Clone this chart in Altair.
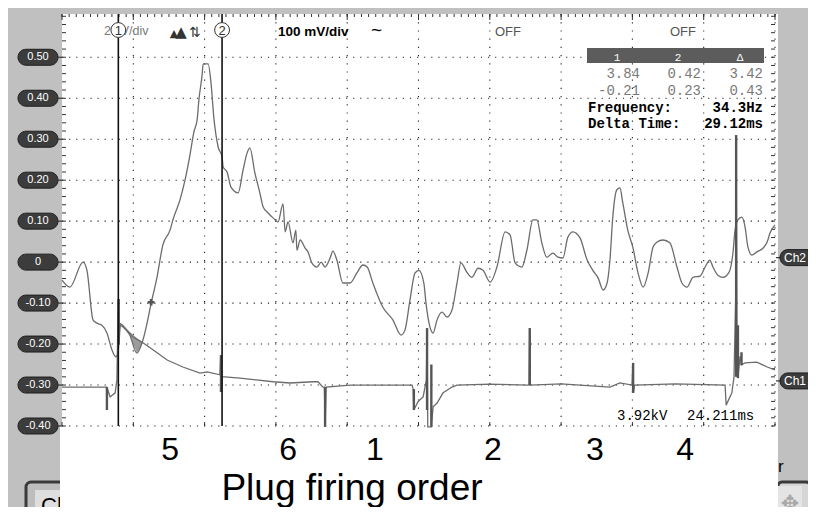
import altair as alt
import numpy as np
import pandas as pd

# ---------------- data (time in ms, volts) ----------------
ch2_t = [0, 2.2, 5.9, 7.0, 8.7, 9.8, 11.2, 12.6, 14.0, 15.1,
         15.7, 16.3, 17.1, 19.0, 21.0, 22.7, 25.2, 26.6, 28.3, 30.3,
         31.1, 33.1, 34.5, 35.9, 37.0, 37.9, 38.4, 39.3, 39.6, 41.0,
         41.8, 42.6, 43.8, 44.9, 45.2, 46.3, 47.4, 49.4, 50.8, 51.9,
         52.7, 54.1, 55.5, 56.4, 57.8, 59.2, 60.6, 62.0, 62.6, 63.4,
         64.8, 65.6, 65.9, 66.8, 68.2, 69.0, 70.1, 71.5, 72.7, 73.8,
         75.2, 76.0, 77.1, 78.8, 80.8, 82.7, 84.4, 85.6, 87.2, 90.0,
         92.8, 95.1, 96.2, 97.6, 99.0, 100.1, 101.5, 102.1, 103.2, 104.1,
         105.2, 106.6, 108.0, 109.4, 110.8, 111.9, 113.6, 115.0, 116.7, 118.1,
         120.1, 122.0, 124.3, 125.7, 127.1, 129.0, 130.4, 132.1, 133.2, 134.6,
         136.0, 137.7, 139.1, 140.5, 141.9, 143.3, 145.3, 147.3, 148.9, 150.4,
         151.8, 152.9, 153.7, 154.5, 155.6, 156.5, 157.3, 158.7, 160.1, 161.6,
         163.0, 164.4, 165.8, 166.9, 168.6, 170.5, 172.5, 173.9, 175.3, 177.0,
         179.0, 180.4, 181.7, 182.6, 184.0, 185.4, 187.1, 188.2, 188.8, 189.6,
         190.7, 191.6, 192.4, 193.5, 194.9, 196.6, 197.8, 198.6, 200]
ch2_v = [-0.044, -0.061, 0.000, -0.020, -0.141, -0.149, -0.154, -0.173, -0.214, -0.231,
         -0.222, -0.155, -0.158, -0.178, -0.222, -0.190, -0.093, -0.039, 0.042, 0.078,
         0.103, 0.152, 0.200, 0.262, 0.318, 0.347, 0.396, 0.457, 0.484, 0.484,
         0.437, 0.352, 0.281, 0.257, 0.232, 0.220, 0.183, 0.169, 0.225, 0.266,
         0.279, 0.218, 0.169, 0.135, 0.120, 0.108, 0.098, 0.142, 0.074, 0.098,
         0.047, 0.078, 0.029, 0.054, 0.034, 0.025, -0.002, -0.012, 0.000, -0.012,
         0.010, 0.027, 0.005, -0.051, -0.051, -0.027, -0.007, -0.012, -0.051, -0.110,
         -0.141, -0.178, -0.166, -0.093, -0.027, -0.020, -0.051, -0.100, -0.158, -0.173,
         -0.141, -0.122, -0.134, -0.117, -0.051, -0.002, -0.025, -0.037, -0.015, -0.020,
         -0.049, -0.012, 0.074, 0.066, -0.002, -0.012, 0.029, 0.103, 0.103, 0.047,
         0.012, 0.022, 0.012, 0.010, 0.061, 0.074, 0.059, 0.005, -0.020, -0.039,
         -0.068, -0.051, 0.005, 0.110, 0.176, 0.181, 0.145, 0.078, 0.037, -0.027,
         -0.061, -0.027, 0.037, 0.049, 0.054, 0.047, -0.012, -0.051, -0.061, -0.037,
         -0.034, -0.012, 0.005, -0.012, -0.032, -0.037, -0.025, 0.022, 0.078, 0.103,
         0.110, 0.086, 0.037, 0.017, 0.025, 0.034, 0.049, 0.071, 0.091]

ch1_t = [0, 12.0, 12.5, 12.6, 12.8, 13.5, 14.9, 15.4, 15.8, 16.0,
         16.3, 16.9, 19.9, 22.7, 25.5, 29.5, 33.9, 38.7, 40.7, 44.3,
         44.5, 44.7, 44.9, 45.7, 49.9, 59.2, 64.0, 70.4, 71.8, 73.2,
         73.6, 73.8, 74.1, 80.8, 92.0, 98.2, 98.5, 98.7, 99.9, 101.3,
         102.2, 102.4, 102.6, 103.6, 104.1, 105.2, 106.9, 109.4, 110.8, 120.0,
         131.0, 131.2, 131.4, 140.0, 153.7, 156.5, 159.9, 160.1, 160.3, 160.6,
         172.0, 186.0, 186.3, 187.9, 188.5, 189.0, 189.1, 189.3, 189.6, 190.2,
         190.7, 191.6, 194.9, 197.8, 200]
ch1_v = [-0.305, -0.305, -0.305, -0.361, -0.310, -0.329, -0.319, -0.288, -0.090, -0.200,
         -0.150, -0.153, -0.183, -0.197, -0.214, -0.239, -0.256, -0.271, -0.268, -0.275,
         -0.227, -0.317, -0.280, -0.280, -0.283, -0.292, -0.295, -0.292, -0.292, -0.305,
         -0.305, -0.402, -0.305, -0.300, -0.300, -0.300, -0.310, -0.361, -0.340, -0.329,
         -0.288, -0.161, -0.402, -0.402, -0.353, -0.344, -0.319, -0.305, -0.300, -0.298,
         -0.300, -0.161, -0.300, -0.297, -0.305, -0.295, -0.300, -0.246, -0.319, -0.300,
         -0.297, -0.300, -0.349, -0.319, -0.280, -0.076, 0.310, -0.154, -0.283, -0.230,
         -0.250, -0.246, -0.244, -0.256, -0.263]

spike_t = [12.6, 15.9, 44.6, 73.8, 98.7, 102.4, 103.6, 131.2, 160.2, 189.1, 189.6, 190.6]
spike_lo = [-0.361, -0.200, -0.317, -0.402, -0.361, -0.361, -0.402, -0.300, -0.319, -0.280, -0.283, -0.252]
spike_hi = [-0.305, -0.090, -0.227, -0.305, -0.310, -0.161, -0.250, -0.161, -0.246, 0.310, -0.154, -0.220]

shade_t = [16.9, 19.0, 21.0, 22.7]
shade_ch1 = [-0.153, -0.170, -0.185, -0.196]
shade_ch2 = [-0.158, -0.178, -0.222, -0.196]

cursor_t = [15.8, 44.9]
cursor_lbl = ["1", "2"]
marker_t = [25.0]
marker_v = [-0.098]

volt_ticks = [0.50, 0.40, 0.30, 0.20, 0.10, 0.0, -0.10, -0.20, -0.30, -0.40]
volt_labels = ["0.50", "0.40", "0.30", "0.20", "0.10", "0", "-0.10", "-0.20", "-0.30", "-0.40"]
time_div = [20, 40, 60, 80, 100, 120, 140, 160, 180, 200]

ch_mark_lbl = ["Ch2", "Ch1"]
ch_mark_v = [0.011, -0.290]

firing_lbl = ["5", "6", "1", "2", "3", "4"]
firing_t = [30.3, 63.4, 87.8, 120.9, 149.5, 174.8]

# ---------------- scales / helpers ----------------
W, H = 713, 412
XS = alt.Scale(domain=[0, 200], nice=False, zero=False)
YS = alt.Scale(domain=[-0.40, 0.6056], nice=False, zero=False)


def X(f="t"):
    return alt.X(f"{f}:Q", scale=XS, axis=None)


def Y(f="v"):
    return alt.Y(f"{f}:Q", scale=YS, axis=None)


one = pd.DataFrame({"a": [0]})
SANS = "Liberation Sans"
MONO = "Liberation Mono"


def txt(text, x, y, size=12, color="#000", font=SANS, weight="normal", align="left", baseline="alphabetic"):
    return alt.Chart(one).mark_text(text=text, fontSize=size, color=color, font=font, fontWeight=weight,
                                    align=align, baseline=baseline).encode(x=alt.value(x), y=alt.value(y))


def box(x, x2, y, y2, fill, stroke=None, sw=0, r=0):
    kw = dict(fill=fill, cornerRadius=r)
    if stroke:
        kw.update(stroke=stroke, strokeWidth=sw)
    return alt.Chart(one).mark_rect(**kw).encode(x=alt.value(x), x2=alt.value(x2), y=alt.value(y), y2=alt.value(y2))


layers = []

# bottom buttons (partly hidden by the white area)
layers.append(box(-36, 20, 468, 512, "#bdbdbd", "#3a3a3a", 3, 5))
layers.append(box(-27, 20, 476, 512, "#dedede"))
layers.append(txt("Ch", -21, 499, size=22))
layers.append(box(716, 748, 468, 512, "#d6d6d6", "#3a3a3a", 3, 4))
layers.append(box(716, 740, 472, 512, "#e4e4e4"))
layers.append(txt("✥", 728, 497, size=22, color="#a8a8a8", font="DejaVu Sans", align="center"))
layers.append(txt("r", 716, 458, size=17))

# white areas
layers.append(box(-2, 716, 412, 500, "white"))
layers.append(box(0, 716, 0, 412, "white"))

# grid
hdf = pd.DataFrame({"v": volt_ticks})
vdf = pd.DataFrame({"t": time_div})
layers.append(alt.Chart(hdf).mark_rule(color="#222", strokeWidth=1.1, strokeDash=[1.2, 5.9]).encode(
    y=Y(), x=alt.value(0), x2=alt.value(W)))
layers.append(alt.Chart(vdf).mark_rule(color="#222", strokeWidth=1.1, strokeDash=[1.2, 7.0]).encode(
    x=X(), y=alt.value(0), y2=alt.value(H)))

# edge ticks
minor_t = pd.DataFrame({"t": np.arange(0, 201, 2)})
major_t = pd.DataFrame({"t": np.arange(0, 201, 20)})
minor_v = pd.DataFrame({"v": np.round(np.arange(-0.40, 0.601, 0.02), 3)})
layers.append(alt.Chart(minor_t).mark_rule(color="#333", strokeWidth=1).encode(x=X(), y=alt.value(0), y2=alt.value(3)))
layers.append(alt.Chart(major_t).mark_rule(color="#333", strokeWidth=1).encode(x=X(), y=alt.value(0), y2=alt.value(6)))
layers.append(alt.Chart(major_t).mark_rule(color="#333", strokeWidth=1).encode(x=X(), y=alt.value(H - 4), y2=alt.value(H)))
layers.append(alt.Chart(minor_v).mark_rule(color="#333", strokeWidth=1).encode(y=Y(), x=alt.value(0), x2=alt.value(4)))
layers.append(alt.Chart(minor_v).mark_rule(color="#333", strokeWidth=1).encode(y=Y(), x=alt.value(W - 4), x2=alt.value(W)))

# shaded wedge
sdf = pd.DataFrame({"t": shade_t, "v": shade_ch1, "v2": shade_ch2})
layers.append(alt.Chart(sdf).mark_area(color="#9c9c9c", opacity=1).encode(x=X(), y=Y(), y2=alt.Y2("v2:Q")))

# traces
c1 = pd.DataFrame({"t": ch1_t, "v": ch1_v, "i": range(len(ch1_t))})
c2 = pd.DataFrame({"t": ch2_t, "v": ch2_v, "i": range(len(ch2_t))})
layers.append(alt.Chart(c1).mark_line(color="#6c6c6c", strokeWidth=1.3).encode(x=X(), y=Y(), order="i:Q"))
layers.append(alt.Chart(c2).mark_line(color="#6c6c6c", strokeWidth=1.3, interpolate="monotone").encode(
    x=X(), y=Y(), order="i:Q"))
spdf = pd.DataFrame({"t": spike_t, "v": spike_lo, "v2": spike_hi})
layers.append(alt.Chart(spdf).mark_rule(color="#555", strokeWidth=2.4).encode(x=X(), y=Y(), y2=alt.Y2("v2:Q")))
mdf = pd.DataFrame({"t": marker_t, "v": marker_v})
layers.append(alt.Chart(mdf).mark_point(shape="cross", filled=True, size=45, color="#555", opacity=1).encode(x=X(), y=Y()))

# cursors
cdf = pd.DataFrame({"t": cursor_t, "lbl": cursor_lbl})
layers.append(alt.Chart(cdf).mark_rule(color="#111", strokeWidth=1.6).encode(x=X(), y=alt.value(0), y2=alt.value(H)))

# header texts in plot
layers.append(txt("2 kV/div", 42, 21, size=12.5, color="#7a7a7a"))
layers.append(alt.Chart(cdf).mark_point(shape="circle", filled=True, fill="white", stroke="#333", strokeWidth=1,
                                        size=220, opacity=1).encode(x=X(), y=alt.value(16)))
layers.append(alt.Chart(cdf).mark_text(fontSize=13, color="#333", font=SANS, baseline="middle").encode(
    x=X(), y=alt.value(16.5), text="lbl:N"))
layers.append(txt("▲", 112, 23, size=11, color="#333", font="DejaVu Sans", align="center"))
layers.append(txt("▲", 119, 23, size=15, color="#333", font="DejaVu Sans", align="center"))
layers.append(txt("⇅", 133, 23, size=14, color="#333", font="DejaVu Sans", align="center"))
layers.append(txt("100 mV/div", 216, 22, size=13.5, weight="bold"))
layers.append(txt("~", 309, 22, size=19))
layers.append(txt("OFF", 433, 22, size=13, color="#555"))
layers.append(txt("OFF", 608, 22, size=13, color="#555"))

# readout table
layers.append(box(525, 702, 34, 49, "#5c5c5c"))
for s, x in [("1", 555), ("2", 616), ("Δ", 678)]:
    layers.append(txt(s, x, 47, size=11, color="white", font=MONO, align="center"))
for row, y in [(["3.84", "0.42", "3.42"], 64), (["-0.21", "0.23", "0.43"], 81)]:
    for s, x in zip(row, [578, 639, 701]):
        layers.append(txt(s, x, y, size=14, color="#7a7a7a", font=MONO, align="right"))
layers.append(txt("Frequency:", 526, 98, size=14, font=MONO, weight="bold"))
layers.append(txt("34.3Hz", 701, 98, size=14, font=MONO, weight="bold", align="right"))
layers.append(txt("Delta Time:", 526, 114, size=14, font=MONO, weight="bold"))
layers.append(txt("29.12ms", 701, 114, size=14, font=MONO, weight="bold", align="right"))
layers.append(txt("3.92kV", 555, 406, size=14, font=MONO))
layers.append(txt("24.211ms", 625, 406, size=14, font=MONO))

# left voltage pills
pdf = pd.DataFrame({"v": volt_ticks, "lbl": volt_labels})
pill = alt.Chart(pdf).transform_calculate(v1="datum.v + 0.0195", v2="datum.v - 0.0195")
layers.append(pill.mark_rect(fill="#3c3c3c", stroke="#1e1e1e", strokeWidth=1, cornerRadius=8).encode(
    y=Y("v1"), y2=alt.Y2("v2:Q"), x=alt.value(-44), x2=alt.value(-4)))
layers.append(alt.Chart(pdf).mark_rule(color="#333", strokeWidth=1.2).encode(y=Y(), x=alt.value(-5), x2=alt.value(0)))
layers.append(alt.Chart(pdf).mark_text(color="white", fontSize=11, font=SANS, baseline="middle", align="center").encode(
    y=Y(), x=alt.value(-24), text="lbl:N"))

# right channel markers
rdf = pd.DataFrame({"v": ch_mark_v, "lbl": ch_mark_lbl})
rpill = alt.Chart(rdf).transform_calculate(v1="datum.v + 0.0195", v2="datum.v - 0.0195")
layers.append(alt.Chart(rdf).mark_rule(color="#333", strokeWidth=1.2).encode(y=Y(), x=alt.value(714), x2=alt.value(720)))
layers.append(rpill.mark_rect(fill="#3c3c3c", stroke="#1e1e1e", strokeWidth=1, cornerRadius=8).encode(
    y=Y("v1"), y2=alt.Y2("v2:Q"), x=alt.value(718), x2=alt.value(764)))
layers.append(alt.Chart(rdf).mark_text(color="white", fontSize=12, font=SANS, baseline="middle", align="left").encode(
    y=Y(), x=alt.value(722), text="lbl:N"))

# firing order labels
fdf = pd.DataFrame({"t": firing_t, "lbl": firing_lbl})
layers.append(alt.Chart(fdf).mark_text(fontSize=32, font=SANS, color="black", baseline="alphabetic").encode(
    x=X(), y=alt.value(446), text="lbl:N"))
layers.append(txt("Plug firing order", 290, 486, size=37, align="center"))

chart = alt.layer(*layers).properties(
    width=W, height=H,
    padding={"left": 54, "top": 6, "right": 33, "bottom": 81},
    autosize=alt.AutoSizeParams(type="none"),
    background="#c0c0c0",
).configure_view(fill="white", stroke="transparent")

chart.save("out.html", embed_options={"renderer": "svg", "actions": False})
